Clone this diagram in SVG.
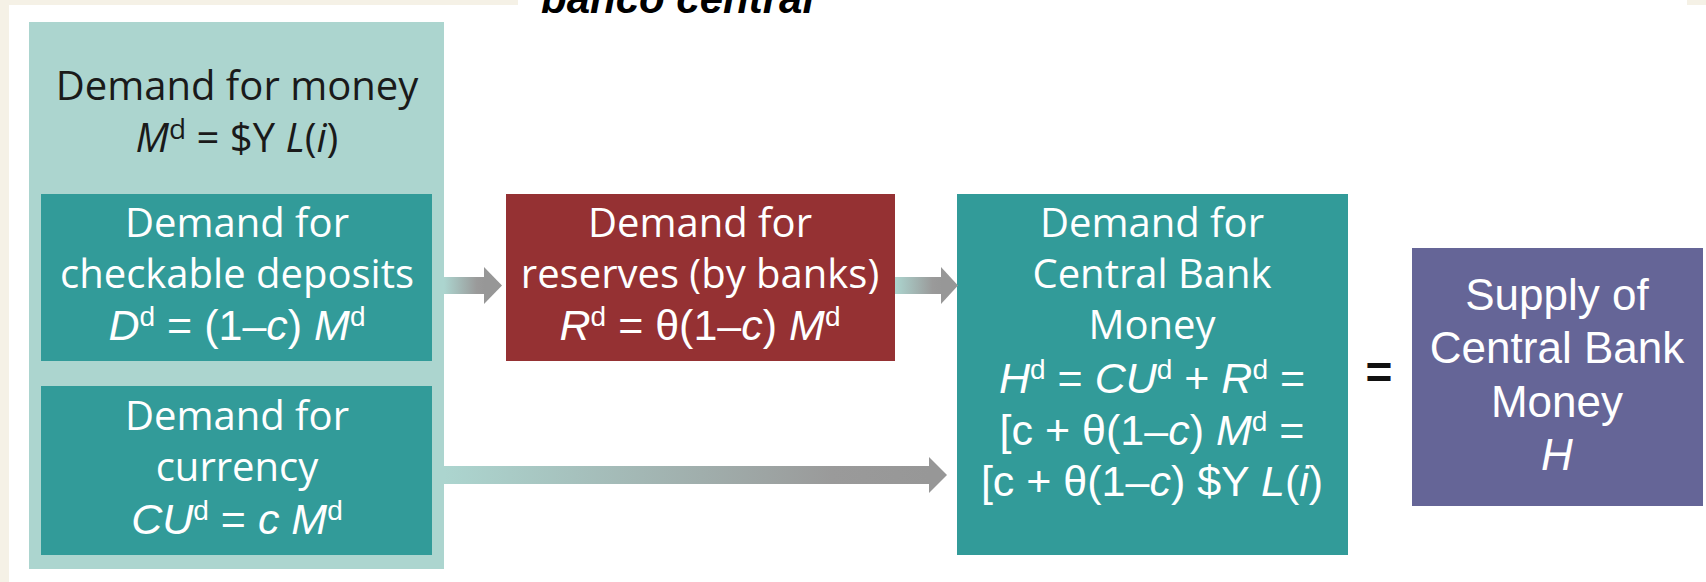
<svg xmlns="http://www.w3.org/2000/svg" width="1706" height="582" viewBox="0 0 1706 582">
  <defs>
    <linearGradient id="shaftFill" x1="0" y1="0" x2="1" y2="0">
      <stop offset="0" stop-color="#acd5cf"/>
      <stop offset="0.8" stop-color="#9a9a9a"/>
      <stop offset="1" stop-color="#979797"/>
    </linearGradient>
  </defs>
  <style>
    .word{font-family:"Open Sans","Noto Sans",sans-serif;font-size:40px;text-anchor:middle}
    .math{font-family:"Liberation Sans",Arial,sans-serif;font-size:43px;text-anchor:middle}
    .arial{font-family:"Liberation Sans",Arial,sans-serif;font-size:44px;text-anchor:middle}
    .w{fill:#ffffff}
    .k{fill:#1a1a1a}
    .it{font-style:italic}
    .sup{font-size:28px}
    .outer{fill:#acd5cf}
    .teal{fill:#329b99}
    .red{fill:#953133}
    .purple{fill:#656597}
    .head{fill:#979797}
  </style>

  <!-- page background -->
  <rect x="0" y="0" width="1706" height="582" fill="#ffffff"/>
  <rect x="0" y="0" width="9" height="582" fill="#f5f1e6"/>
  <rect x="0" y="0" width="518" height="5" fill="#f5f1e6"/>
  <rect x="1687" y="0" width="19" height="5" fill="#f5f1e6"/>

  <!-- heading, clipped by the top edge -->
  <text x="541" y="13" font-family="Liberation Sans, Arial, sans-serif" font-size="42" font-weight="bold" font-style="italic" fill="#000000">banco central</text>

  <!-- demand for money (outer panel) -->
  <g id="money-demand">
    <rect class="outer" x="29" y="22" width="415" height="547"/>
    <text class="word k" x="237" y="100">Demand for money</text>
    <text class="word k" x="237" y="152"><tspan class="it">M</tspan><tspan class="sup" dy="-13">d</tspan><tspan dy="13"> = $Y </tspan><tspan class="it">L</tspan>(<tspan class="it">i</tspan>)</text>
  </g>

  <!-- checkable deposits -->
  <g id="deposits">
    <rect class="teal" x="41" y="194" width="391" height="167"/>
    <text class="word w" x="237" y="237">Demand for</text>
    <text class="word w" x="237" y="288">checkable deposits</text>
    <text class="math w" x="237" y="340"><tspan class="it">D</tspan><tspan class="sup" dy="-14">d</tspan><tspan dy="14"> = (1–</tspan><tspan class="it">c</tspan>) <tspan class="it">M</tspan><tspan class="sup" dy="-14">d</tspan></text>
  </g>

  <!-- currency -->
  <g id="currency">
    <rect class="teal" x="41" y="386" width="391" height="169"/>
    <text class="word w" x="237" y="430">Demand for</text>
    <text class="word w" x="237" y="481">currency</text>
    <text class="math w" x="237" y="534"><tspan class="it">CU</tspan><tspan class="sup" dy="-14">d</tspan><tspan dy="14"> = </tspan><tspan class="it">c M</tspan><tspan class="sup" dy="-14">d</tspan></text>
  </g>

  <!-- reserves -->
  <g id="reserves">
    <rect class="red" x="506" y="194" width="389" height="167"/>
    <text class="word w" x="700" y="237">Demand for</text>
    <text class="word w" x="700" y="288">reserves (by banks)</text>
    <text class="math w" x="700" y="340"><tspan class="it">R</tspan><tspan class="sup" dy="-14">d</tspan><tspan dy="14"> = θ(1–</tspan><tspan class="it">c</tspan>) <tspan class="it">M</tspan><tspan class="sup" dy="-14">d</tspan></text>
  </g>

  <!-- central bank money demand -->
  <g id="cb-demand">
    <rect class="teal" x="957" y="194" width="391" height="361"/>
    <text class="word w" x="1152" y="237">Demand for</text>
    <text class="word w" x="1152" y="288">Central Bank</text>
    <text class="word w" x="1152" y="339">Money</text>
    <text class="math w" x="1152" y="393"><tspan class="it">H</tspan><tspan class="sup" dy="-14">d</tspan><tspan dy="14"> = </tspan><tspan class="it">CU</tspan><tspan class="sup" dy="-14">d</tspan><tspan dy="14"> + </tspan><tspan class="it">R</tspan><tspan class="sup" dy="-14">d</tspan><tspan dy="14"> =</tspan></text>
    <text class="math w" x="1152" y="445">[c + θ(1–<tspan class="it">c</tspan>) <tspan class="it">M</tspan><tspan class="sup" dy="-14">d</tspan><tspan dy="14"> =</tspan></text>
    <text class="math w" x="1152" y="496">[c + θ(1–<tspan class="it">c</tspan>) $Y <tspan class="it">L</tspan>(<tspan class="it">i</tspan>)</text>
  </g>

  <!-- equality sign -->
  <text x="1379" y="388" font-family="Liberation Sans, Arial, sans-serif" font-size="46" font-weight="bold" text-anchor="middle" fill="#111111">=</text>

  <!-- central bank money supply -->
  <g id="cb-supply">
    <rect class="purple" x="1412" y="248" width="291" height="258"/>
    <text class="arial w" x="1557" y="310">Supply of</text>
    <text class="arial w" x="1557" y="363">Central Bank</text>
    <text class="arial w" x="1557" y="417">Money</text>
    <text class="arial w it" x="1557" y="470">H</text>
  </g>

  <!-- connectors -->
  <g id="connectors">
    <rect x="444" y="277" width="41" height="17" fill="url(#shaftFill)"/>
    <polygon class="head" points="484,267 502,285.5 484,304"/>
    <rect x="895" y="277" width="47" height="17" fill="url(#shaftFill)"/>
    <polygon class="head" points="941,267 958,285.5 941,304"/>
    <rect x="444" y="466" width="486" height="18" fill="url(#shaftFill)"/>
    <polygon class="head" points="929,457 947,475 929,493"/>
  </g>
</svg>
